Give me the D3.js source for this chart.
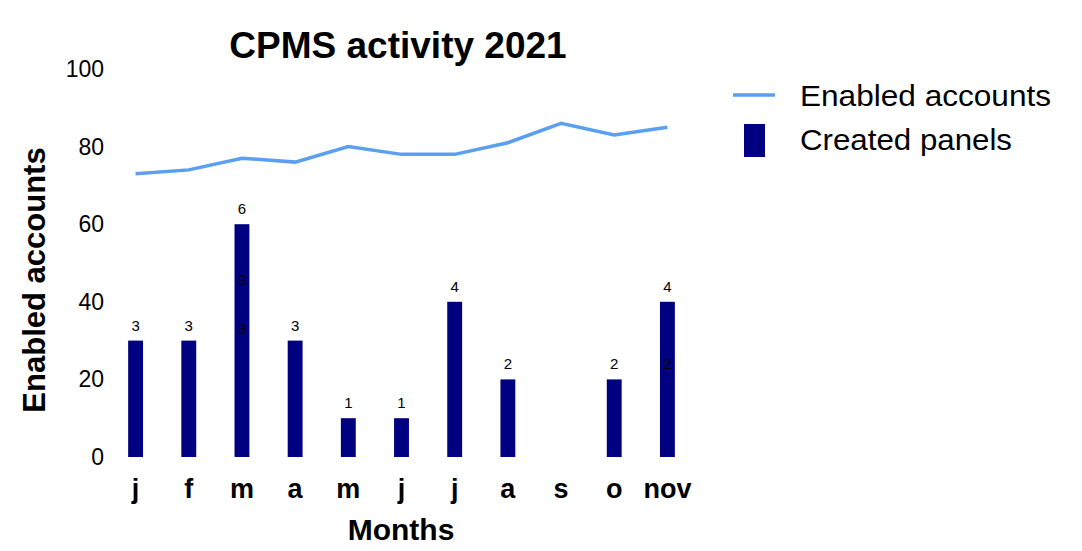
<!DOCTYPE html>
<html>
<head>
<meta charset="utf-8">
<script src="https://cdn.jsdelivr.net/npm/d3@7"></script>
<style>
  body { margin: 0; background: #fff; }
  text { font-family: "Liberation Sans", Arial, sans-serif; }
</style>
</head>
<body>
<svg id="chart" width="1082" height="551"></svg>
<script>
// data
var months = ['j', 'f', 'm', 'a', 'm', 'j', 'j', 'a', 's', 'o', 'nov']
var createdPanels = [3, 3, 6, 3, 1, 1, 4, 2, 0, 2, 4]
var enabledAccounts = [73, 74, 77, 76, 80, 78, 78, 81, 86, 83, 85]
var yTicks = [0, 20, 40, 60, 80, 100]
// stray labels that sit inside some bars in the original
var innerLabels = [
  { index: 2, text: '3', value: 45.5 },
  { index: 2, text: '3', value: 33 },
  { index: 10, text: '2', value: 24 }
]

var PANEL_SCALE = 10
var svg = d3.select('#chart')

var x = d3.scaleBand()
  .domain(d3.range(months.length))
  .range([109, 694])
  .paddingInner(0.72)
  .paddingOuter(0.36)

var y = d3.scaleLinear()
  .domain([0, 100])
  .range([457, 69])

function cx(i) { return x(i) + x.bandwidth() / 2 }

// title
svg.append('text')
  .attr('x', 398).attr('y', 58)
  .attr('text-anchor', 'middle')
  .attr('font-size', 37)
  .attr('font-weight', 'bold')
  .text('CPMS activity 2021')

// y tick labels
svg.append('g').selectAll('text')
  .data(yTicks)
  .enter().append('text')
  .attr('x', 104)
  .attr('y', function(d) { return y(d) + 8 })
  .attr('text-anchor', 'end')
  .attr('font-size', 23)
  .text(function(d) { return d })

// y axis title
svg.append('text')
  .attr('transform', 'translate(45,280) rotate(-90)')
  .attr('text-anchor', 'middle')
  .attr('font-size', 31)
  .attr('font-weight', 'bold')
  .text('Enabled accounts')

// bars
svg.append('g').selectAll('rect')
  .data(createdPanels)
  .enter().append('rect')
  .attr('x', function(d, i) { return x(i) })
  .attr('y', function(d) { return y(d * PANEL_SCALE) })
  .attr('width', x.bandwidth())
  .attr('height', function(d) { return y(0) - y(d * PANEL_SCALE) })
  .attr('fill', '#000080')

// bar labels
var labelled = createdPanels
  .map(function(d, i) { return { value: d, index: i } })
  .filter(function(d) { return d.value > 0 })

svg.append('g').selectAll('text')
  .data(labelled)
  .enter().append('text')
  .attr('x', function(d) { return cx(d.index) })
  .attr('y', function(d) { return y(d.value * PANEL_SCALE) - 10 })
  .attr('text-anchor', 'middle')
  .attr('font-size', 15)
  .text(function(d) { return d.value })

svg.append('g').selectAll('text')
  .data(innerLabels)
  .enter().append('text')
  .attr('x', function(d) { return cx(d.index) })
  .attr('y', function(d) { return y(d.value) + 5 })
  .attr('text-anchor', 'middle')
  .attr('font-size', 15)
  .attr('fill', '#000')
  .text(function(d) { return d.text })

// line
var line = d3.line()
  .x(function(d, i) { return cx(i) })
  .y(function(d) { return y(d) })

svg.append('path')
  .datum(enabledAccounts)
  .attr('d', line)
  .attr('fill', 'none')
  .attr('stroke', '#5a9ff0')
  .attr('stroke-width', 3.5)

// x tick labels
svg.append('g').selectAll('text')
  .data(months)
  .enter().append('text')
  .attr('x', function(d, i) { return cx(i) })
  .attr('y', 498)
  .attr('text-anchor', 'middle')
  .attr('font-size', 27)
  .attr('font-weight', 'bold')
  .text(function(d) { return d })

svg.append('text')
  .attr('x', 401).attr('y', 540)
  .attr('text-anchor', 'middle')
  .attr('font-size', 30)
  .attr('font-weight', 'bold')
  .text('Months')

// legend
var legend = svg.append('g')
legend.append('line')
  .attr('x1', 733).attr('x2', 775)
  .attr('y1', 95).attr('y2', 95)
  .attr('stroke', '#5a9ff0')
  .attr('stroke-width', 3.5)
legend.append('text')
  .attr('x', 800).attr('y', 106)
  .attr('font-size', 29)
  .attr('textLength', 251)
  .attr('lengthAdjust', 'spacingAndGlyphs')
  .text('Enabled accounts')
legend.append('rect')
  .attr('x', 744).attr('y', 124)
  .attr('width', 21).attr('height', 33)
  .attr('fill', '#000080')
legend.append('text')
  .attr('x', 800).attr('y', 150)
  .attr('font-size', 29)
  .attr('textLength', 212)
  .attr('lengthAdjust', 'spacingAndGlyphs')
  .text('Created panels')
</script>
</body>
</html>
